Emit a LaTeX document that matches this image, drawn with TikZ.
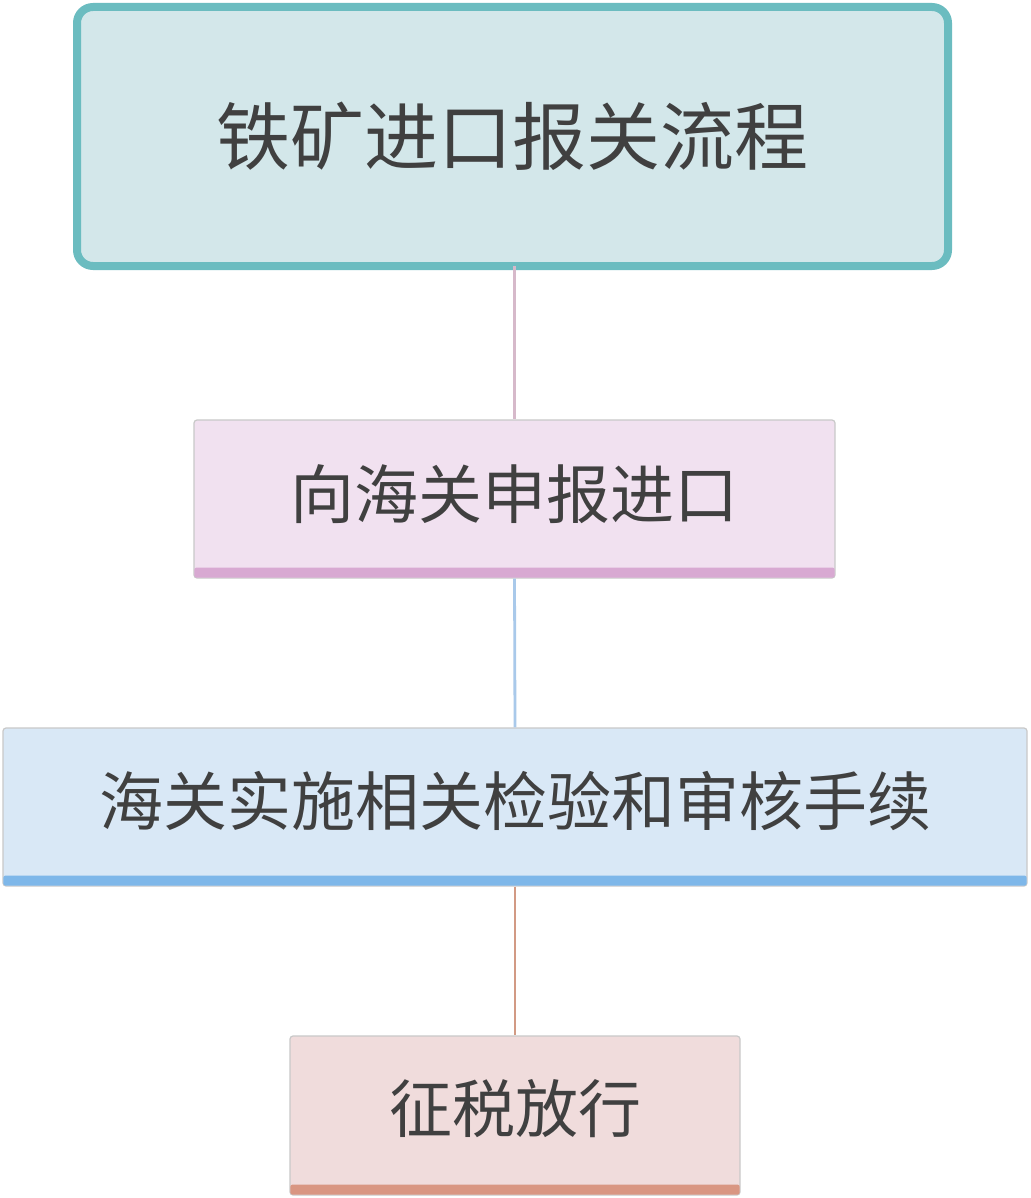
\documentclass[tikz,border=0pt]{standalone}
\usepackage{fontspec}
\newfontfamily\cjk{Noto Sans CJK SC}
\definecolor{tealb}{HTML}{6BBCC0}
\definecolor{tealf}{HTML}{D3E7EA}
\definecolor{pinkf}{HTML}{F1E1F0}
\definecolor{pinkb}{HTML}{D8A9D2}
\definecolor{bluef}{HTML}{D9E8F6}
\definecolor{blueb}{HTML}{7EB7E9}
\definecolor{salf}{HTML}{F0DCDC}
\definecolor{salb}{HTML}{D99682}
\definecolor{edgegray}{HTML}{C9C9C9}
\definecolor{txt}{HTML}{404040}
\definecolor{lnpink}{HTML}{D6B9CA}
\definecolor{lnblue}{HTML}{A9C9EA}
\definecolor{lnsal}{HTML}{D29A84}
\begin{document}
\begin{tikzpicture}[x=1pt,y=-1pt,
  titlebox/.style={draw=tealb,line width=8pt,fill=tealf,rounded corners=16pt,inner sep=0pt,text=txt,font=\cjk\fontsize{74}{80}\selectfont},
  stepbox/.style={draw=edgegray,line width=1.2pt,rounded corners=3pt,inner sep=0pt},
  steptext/.style={text=txt,font=\cjk\fontsize{#1}{70}\selectfont},
  conn/.style={line width=2.8pt}]
\useasboundingbox (0,0) rectangle (1030,1198);
\fill[white] (0,0) rectangle (1030,1198);
% title
\node[titlebox,minimum width=871pt,minimum height=259pt] (t) at (512.5,136.5) {铁矿进口报关流程};
% step 1
\node[stepbox,fill=pinkf,minimum width=641pt,minimum height=158pt] (s1) at (514.5,499) {};
\fill[pinkb,rounded corners=2pt] ([xshift=1pt,yshift=1pt]s1.south west) rectangle ([xshift=-1pt,yshift=11pt]s1.south east);
\node[steptext=64] (s1t) at (514.5,494) {向海关申报进口};
% step 2
\node[stepbox,fill=bluef,minimum width=1024pt,minimum height=158pt] (s2) at (515,807) {};
\fill[blueb,rounded corners=2pt] ([xshift=1pt,yshift=1pt]s2.south west) rectangle ([xshift=-1pt,yshift=11pt]s2.south east);
\node[steptext=64] (s2t) at (515,801) {海关实施相关检验和审核手续};
% step 3
\node[stepbox,fill=salf,minimum width=450pt,minimum height=159pt] (s3) at (515,1115.5) {};
\fill[salb,rounded corners=2pt] ([xshift=1pt,yshift=1pt]s3.south west) rectangle ([xshift=-1pt,yshift=11pt]s3.south east);
\node[steptext=63] (s3t) at (515,1109) {征税放行};
% connectors
\draw[conn,lnpink] ([yshift=4pt]t.south -| s1.north) -- (s1.north);
\draw[conn,lnblue] (s1.south) -- (s2.north);
\draw[conn,lnsal] (s2.south) -- (s3.north);
\end{tikzpicture}
\end{document}
